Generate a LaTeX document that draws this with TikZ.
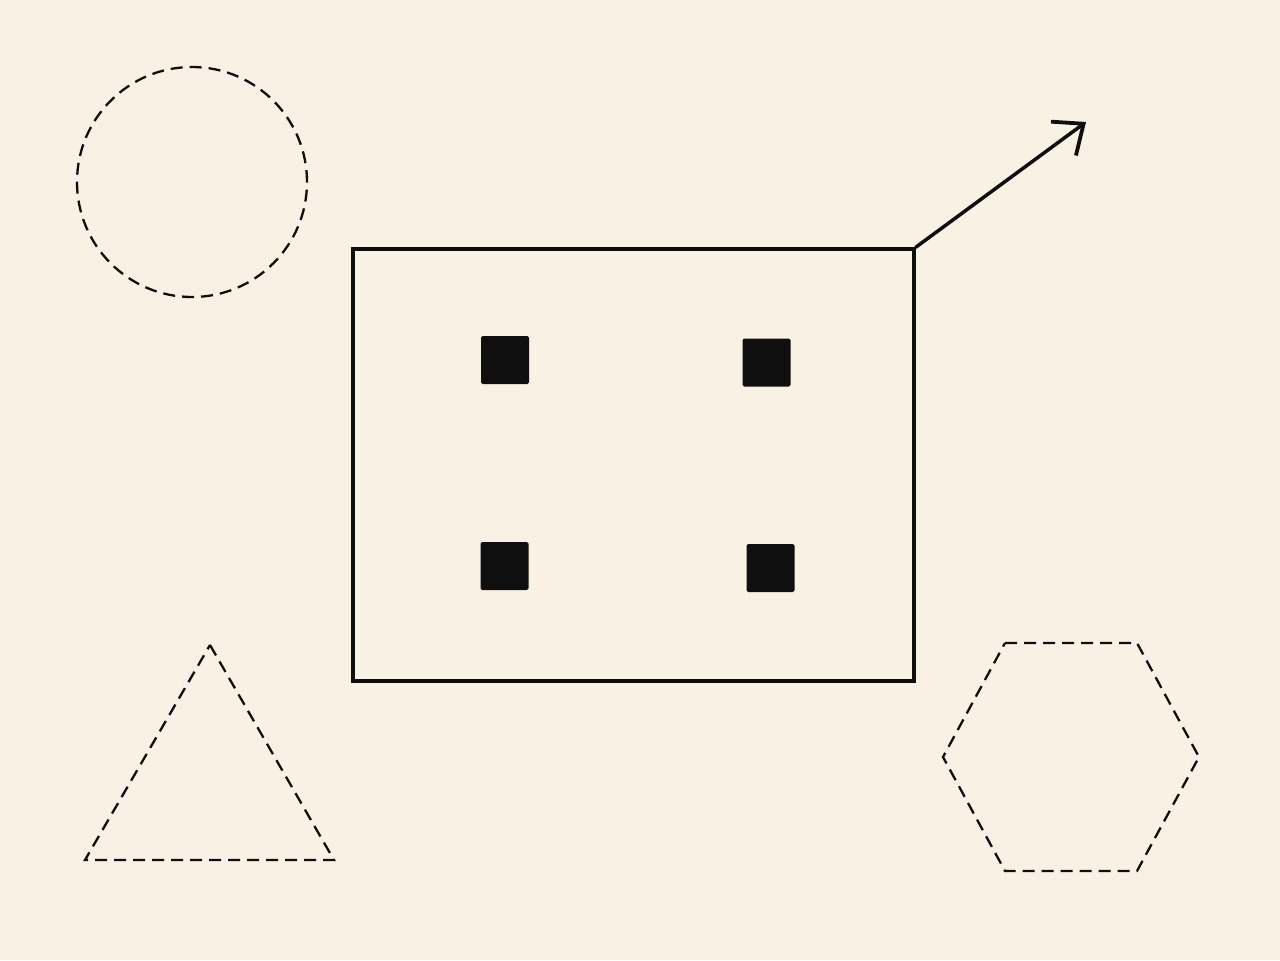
\documentclass[tikz,border=0pt]{standalone}
\usetikzlibrary{arrows.meta}
\usetikzlibrary{shapes.geometric}
\definecolor{paper}{RGB}{249,242,228}
\definecolor{ink}{RGB}{15,15,15}

\begin{document}
\begin{tikzpicture}[x=0.5pt, y=-0.5pt,
    outline/.style={draw=ink, line width=1.15pt, dash pattern=on 6pt off 3.5pt},
    dot/.style={fill=ink, rounded corners=0.8pt, inner sep=0pt, minimum size=\dotsize}]
      \def\dotsize{24pt}

      \fill[paper] (0,0) rectangle (1280,960);
      \useasboundingbox (0,0) rectangle (1280,960);

      \draw[outline] (192,182) circle (57.5pt);
      \draw[outline] (210,645) -- (334,860) -- (85,860) -- cycle;
      \draw[outline] (1005,643) -- (1137,643) -- (1199,757) -- (1137,871) -- (1005,871) -- (943,757) -- cycle;

      \node[draw=ink, line width=1.75pt, inner sep=0pt, minimum width=280.5pt, minimum height=216pt] (box) at (633.5,465) {};
      \node[dot] (sq1) at (505,360) {};
      \node[dot] (sq2) at (766.5,362.5) {};
      \node[dot] (sq3) at (504.5,566) {};
      \node[dot] (sq4) at (770.5,568) {};

      \coordinate (tip) at (1086,122);
      \draw[ink, line width=1.75pt, line cap=round, -{Straight Barb[length=12.5pt, width=21pt, line width=1.9pt]}] (box.north east) -- (tip);

    \end{tikzpicture}
\end{document}
